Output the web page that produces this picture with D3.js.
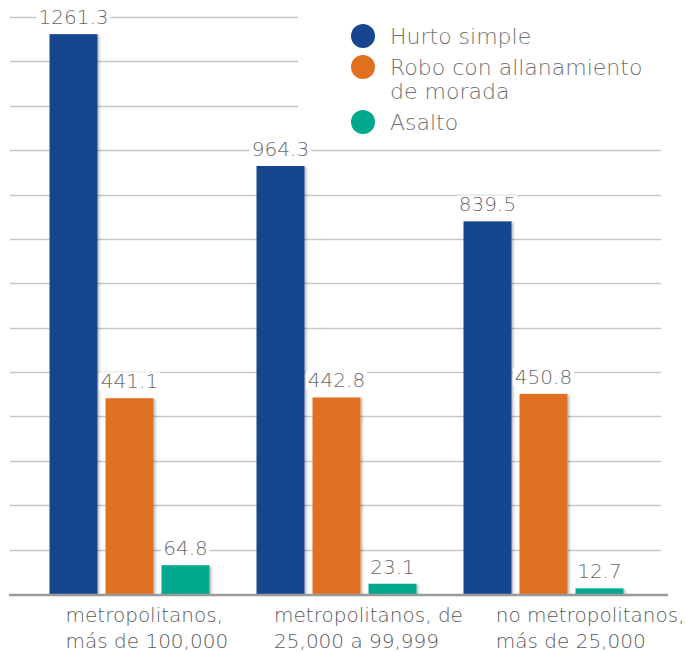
<!DOCTYPE html>
<html>
<head>
<meta charset="utf-8">
<script src="https://cdn.jsdelivr.net/npm/d3@7"></script>
<style>
    body { margin: 0; background: #fff; }
    svg { display: block; }
    text { font-family: "DejaVu Sans", sans-serif; font-weight: 200; }
</style>
</head>
<body>
<svg id="chart" width="686" height="653"></svg>
<script>
var categories = [
    ["metropolitanos,", "más de 100,000"],
    ["metropolitanos, de", "25,000 a 99,999"],
    ["no metropolitanos,", "más de 25,000"]
];
var seriesNames = ["Hurto simple", "Robo con allanamiento de morada", "Asalto"];
var legendLines = [["Hurto simple"], ["Robo con allanamiento", "de morada"], ["Asalto"]];
var hurtoSimple = [1261.3, 964.3, 839.5];
var roboMorada = [441.1, 442.8, 450.8];
var asalto = [64.8, 23.1, 12.7];
var yTicks = d3.range(0, 1301, 100);
var colors = ["#17468e", "#e07020", "#00a88e"];

var W = 686, H = 653;
var svg = d3.select("#chart");

var defs = svg.append("defs");
var shadow = defs.append("filter").attr("id", "shadow")
    .attr("x", "-20%").attr("y", "-5%").attr("width", "150%").attr("height", "110%");
shadow.append("feDropShadow")
    .attr("dx", 2).attr("dy", 1)
    .attr("stdDeviation", 1.2)
    .attr("flood-color", "#000")
    .attr("flood-opacity", 0.25);

var catKeys = categories.map(function(d, i) { return i; });
var series = [hurtoSimple, roboMorada, asalto];

var y = d3.scaleLinear().domain([0, 1300]).range([594, 17]);
var x0 = d3.scaleBand().domain(catKeys).range([26, 647])
    .paddingInner(0.227).paddingOuter(0.1135);
var x1 = d3.scaleBand().domain(d3.range(series.length)).range([0, x0.bandwidth()])
    .paddingInner(0.143);
// category labels sit on their own, slightly wider band
var xLabel = d3.scaleBand().domain(catKeys).range([36, 701]);

// gridlines
svg.append("g").selectAll("line")
    .data(yTicks.slice(1))
    .join("line")
    .attr("x1", 10).attr("x2", 661)
    .attr("y1", function(d) { return Math.round(y(d)) + 0.5; })
    .attr("y2", function(d) { return Math.round(y(d)) + 0.5; })
    .attr("stroke", "#c6c6c6")
    .attr("stroke-width", 1.3);

// legend (white box hides the gridlines behind it)
var legend = svg.append("g");
legend.append("rect")
    .attr("x", 298).attr("y", 0).attr("width", 380).attr("height", 140)
    .attr("fill", "#fff");
var legendY = [36, 67, 122];
legendLines.forEach(function(lines, i) {
    var g = legend.append("g").attr("transform", "translate(363," + legendY[i] + ")");
    g.append("circle").attr("r", 12).attr("fill", colors[i]);
    lines.forEach(function(s, j) {
        g.append("text")
            .attr("x", 27).attr("y", 8 + j * 24)
            .attr("fill", "#6f6f6f")
            .style("font-size", "22px")
            .text(s);
    });
});

// bars
var groups = svg.append("g").selectAll("g")
    .data(catKeys)
    .join("g")
    .attr("transform", function(c) { return "translate(" + x0(c) + ",0)"; });

groups.selectAll("rect")
    .data(function(c) { return series.map(function(s, k) { return { k: k, v: s[c] }; }); })
    .join("rect")
    .attr("x", function(d) { return x1(d.k); })
    .attr("y", function(d) { return y(d.v); })
    .attr("width", x1.bandwidth())
    .attr("height", function(d) { return y(0) - y(d.v); })
    .attr("fill", function(d) { return colors[d.k]; })
    .attr("filter", "url(#shadow)");

// value labels with white background
groups.each(function(c) {
    var g = d3.select(this);
    series.forEach(function(s, k) {
        var lg = g.append("g");
        var t = lg.append("text")
            .attr("x", x1(k) + x1.bandwidth() / 2)
            .attr("y", y(s[c]) - 10)
            .attr("text-anchor", "middle")
            .attr("fill", "#6a6a6a")
            .style("font-size", "20px")
            .text(d3.format(".1f")(s[c]));
        var bb = t.node().getBBox();
        lg.insert("rect", "text")
            .attr("x", bb.x - 2).attr("y", bb.y + 3)
            .attr("width", bb.width + 4).attr("height", bb.height - 6)
            .attr("fill", "#fff");
    });
});

// baseline
svg.append("line")
    .attr("x1", 9).attr("x2", 668)
    .attr("y1", y(0) + 1).attr("y2", y(0) + 1)
    .attr("stroke", "#9a9a9a")
    .attr("stroke-width", 2.5);

// category labels: block centred on its band, lines left aligned
svg.append("g").selectAll("text")
    .data(catKeys)
    .join("text")
    .attr("fill", "#5a5a5a")
    .style("font-size", "20px")
    .each(function(c) {
        var t = d3.select(this);
        categories[c].forEach(function(s, j) {
            t.append("tspan").attr("x", 0).attr("y", 622 + j * 26).text(s);
        });
        var w = this.getBBox().width;
        var left = xLabel(c) + xLabel.bandwidth() / 2 - w / 2;
        left = Math.min(left, W - 1 - w);
        t.selectAll("tspan").attr("x", left);
    });
</script>
</body>
</html>
